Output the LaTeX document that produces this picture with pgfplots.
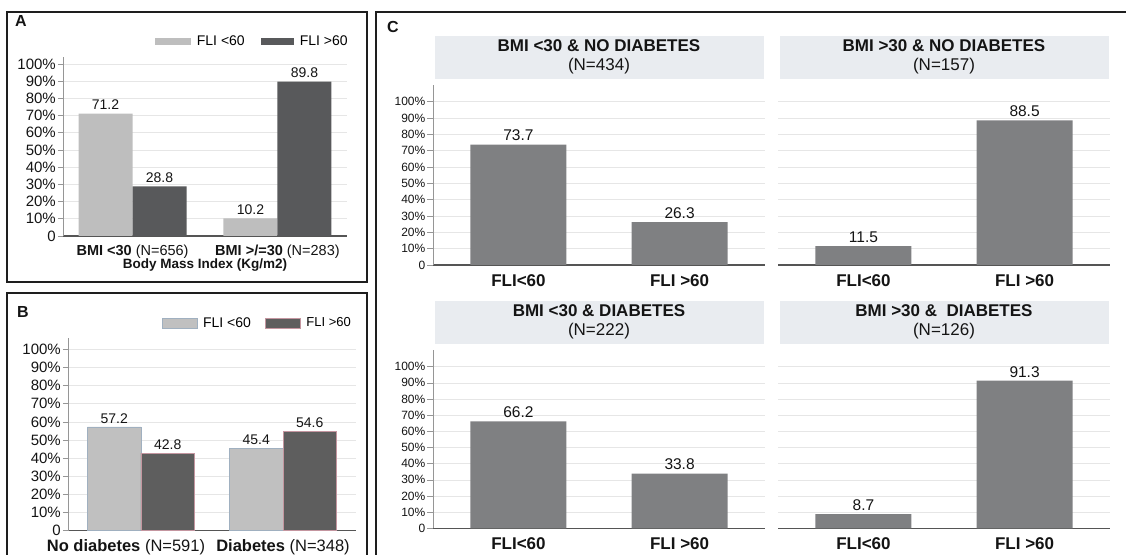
\documentclass[border=0pt]{standalone}
\usepackage{fontspec}
\setmainfont{Liberation Sans}
\usepackage{pgfplots}
\pgfplotsset{compat=1.18}

\definecolor{lightA}{RGB}{190,190,190}
\definecolor{darkA}{RGB}{88,89,91}
\definecolor{lightB}{RGB}{192,192,192}
\definecolor{lightBd}{RGB}{160,176,192}
\definecolor{darkB}{RGB}{94,94,94}
\definecolor{darkBd}{RGB}{196,150,160}
\definecolor{barC}{RGB}{127,128,130}
\definecolor{stripc}{RGB}{233,236,240}
\definecolor{gridc}{RGB}{230,230,230}
\definecolor{axisy}{RGB}{150,150,150}
\definecolor{axisx}{RGB}{85,85,85}
\definecolor{textc}{RGB}{20,20,20}
\definecolor{framec}{RGB}{30,30,30}

\newcommand\fs[2]{\fontsize{#1}{#2}\selectfont}

\pgfplotsset{
  panel/.style={
    scale only axis, ybar=0pt, ymin=0,
    axis x line*=bottom, axis y line*=left,
    x axis line style={draw=axisx, line width=1.1pt},
    y axis line style={draw=axisy, line width=0.8pt},
    tick align=outside, major tick length=5pt,
    xtick={0,1},
    xtick style={draw=none},
    ytick style={draw=axisy, line width=0.6pt},
    ytick={0,10,20,30,40,50,60,70,80,90,100},
    yticklabels={0,10\%,20\%,30\%,40\%,50\%,60\%,70\%,80\%,90\%,100\%},
    yticklabel style={inner sep=2pt, text=textc},
    xticklabel style={text=textc},
    ymajorgrids, major grid style={draw=gridc, line width=0.6pt},
    nodes near coords,
    every node near coord/.append style={text=textc},
    /pgf/number format/.cd, fixed, precision=1, fixed zerofill, assume math mode=true
  },
  swA/.style={legend image code/.code={\fill[lightA] (0pt,-3.5pt) rectangle (36pt,3.5pt);}},
  swB/.style={legend image code/.code={\fill[darkA] (0pt,-3.5pt) rectangle (33pt,3.5pt);}},
  swC/.style={legend image code/.code={\filldraw[fill=lightB, draw=lightBd, line width=0.5pt] (0pt,-5pt) rectangle (35pt,5pt);}},
  swD/.style={legend image code/.code={\filldraw[fill=darkB, draw=darkBd, line width=0.5pt] (0pt,-5pt) rectangle (35pt,5pt);}},
}

\begin{document}
\begin{tikzpicture}[x=1pt,y=1pt]
\useasboundingbox (0pt,0pt) rectangle (1126pt,554pt);

% panel frames
\draw[line width=1.4pt, framec] (7pt,542pt) rectangle (367pt,272pt);
\draw[line width=1.4pt, framec] (7pt,-5pt) -- (7pt,261pt) -- (367pt,261pt) -- (367pt,-5pt);
\draw[line width=1.4pt, framec] (376pt,-5pt) -- (376pt,542pt) -- (1130pt,542pt);

\node[font=\fs{16}{19}\bfseries, text=textc] at (21pt,533pt) {A};
\node[font=\fs{16}{19}\bfseries, text=textc] at (23pt,242pt) {B};
\node[font=\fs{16}{19}\bfseries, text=textc] at (393pt,527pt) {C};

% ---------------- Panel A ----------------
\begin{axis}[panel,
  at={(63pt,318pt)}, anchor=south west,
  width=284pt, height=178.9pt,
  xmin=-0.48, xmax=1.48, ymax=104,
  bar width=54pt,
  xticklabels={{\textbf{BMI <30} (N=656)},{\textbf{BMI >/=30} (N=283)}},
  xticklabel style={font=\fs{14.5}{17}},
  yticklabel style={font=\fs{15}{18}},
  every node near coord/.append style={font=\fs{14}{17}},
  xlabel={\textbf{Body Mass Index (Kg/m2)}},
  xlabel style={font=\fs{13.5}{16}, text=textc, at={(axis description cs:0.5,0)}, anchor=center, yshift=-29pt},
  legend style={draw=none, fill=none, legend columns=2, inner sep=0pt,
    at={(1.01,1.087)}, anchor=east, font=\fs{14}{17},
    /tikz/every odd column/.append style={column sep=4pt},
    /tikz/every even column/.append style={column sep=14pt}},
]
\addplot[fill=lightA, draw=none, swA] coordinates {(0,71.2) (1,10.2)};
\addlegendentry{FLI <60}
\addplot[fill=darkA, draw=none, swB] coordinates {(0,28.8) (1,89.8)};
\addlegendentry{FLI >60}
\end{axis}

% ---------------- Panel B ----------------
\begin{axis}[panel,
  at={(68pt,23.3pt)}, anchor=south west,
  width=288pt, height=192.3pt,
  xmin=-0.514, xmax=1.514, ymax=106,
  bar width=53.5pt,
  xticklabels={{\textbf{No diabetes} (N=591)\hspace*{30pt}},{\textbf{Diabetes} (N=348)}},
  xticklabel style={font=\fs{16.5}{19}},
  yticklabel style={font=\fs{15}{18}},
  every node near coord/.append style={font=\fs{14}{17}},
  legend style={draw=none, fill=none, legend columns=2, inner sep=0pt,
    at={(0.99,1.08)}, anchor=east, font=\fs{14}{17},
    /tikz/every odd column/.append style={column sep=4pt},
    /tikz/every even column/.append style={column sep=12pt}},
]
\addplot[fill=lightB, draw=lightBd, line width=0.5pt, swC] coordinates {(0,57.2) (1,45.4)};
\addlegendentry{FLI <60}
\addplot[fill=darkB, draw=darkBd, line width=0.5pt, swD] coordinates {(0,42.8) (1,54.6)};
\addlegendentry{\fs{13}{15}FLI >60}
\end{axis}

% ---------------- Panel C ----------------
\pgfplotsset{
  cpanel/.style={panel,
    anchor=south west, width=332pt,
    xmin=-0.53, xmax=1.53, ymax=110,
    bar width=96pt,
    xticklabels={FLI<60,FLI >60},
    xticklabel style={font=\fs{17}{20}\bfseries},
    yticklabel style={font=\fs{12}{14}, inner sep=1.5pt},
    major tick length=6pt,
    every node near coord/.append style={font=\fs{15.5}{18}},
    title style={at={(0.5,1)}, anchor=south, fill=stripc, minimum width=329pt,
      minimum height=43pt, align=center, font=\fs{17}{19}, text=textc, inner sep=0pt, yshift=0.5pt},
  },
  cnoy/.style={yticklabels={}, y axis line style={draw=none}, ytick style={draw=none}},
}

\begin{axis}[cpanel, at={(433pt,289pt)}, height=179.6pt,
  title={\textbf{BMI <30 \& NO DIABETES}\\(N=434)}]
\addplot[fill=barC, draw=none] coordinates {(0,73.7) (1,26.3)};
\end{axis}

\begin{axis}[cpanel, cnoy, at={(778pt,289pt)}, height=179.6pt,
  title={\textbf{BMI >30 \& NO DIABETES}\\(N=157)}]
\addplot[fill=barC, draw=none] coordinates {(0,11.5) (1,88.5)};
\end{axis}

\begin{axis}[cpanel, at={(433pt,25.7pt)}, height=177.8pt,
  title={\textbf{BMI <30 \& DIABETES}\\(N=222)}]
\addplot[fill=barC, draw=none] coordinates {(0,66.2) (1,33.8)};
\end{axis}

\begin{axis}[cpanel, cnoy, at={(778pt,25.7pt)}, height=177.8pt,
  title={\textbf{BMI >30 \&\ \ DIABETES}\\(N=126)}]
\addplot[fill=barC, draw=none] coordinates {(0,8.7) (1,91.3)};
\end{axis}

\end{tikzpicture}
\end{document}
